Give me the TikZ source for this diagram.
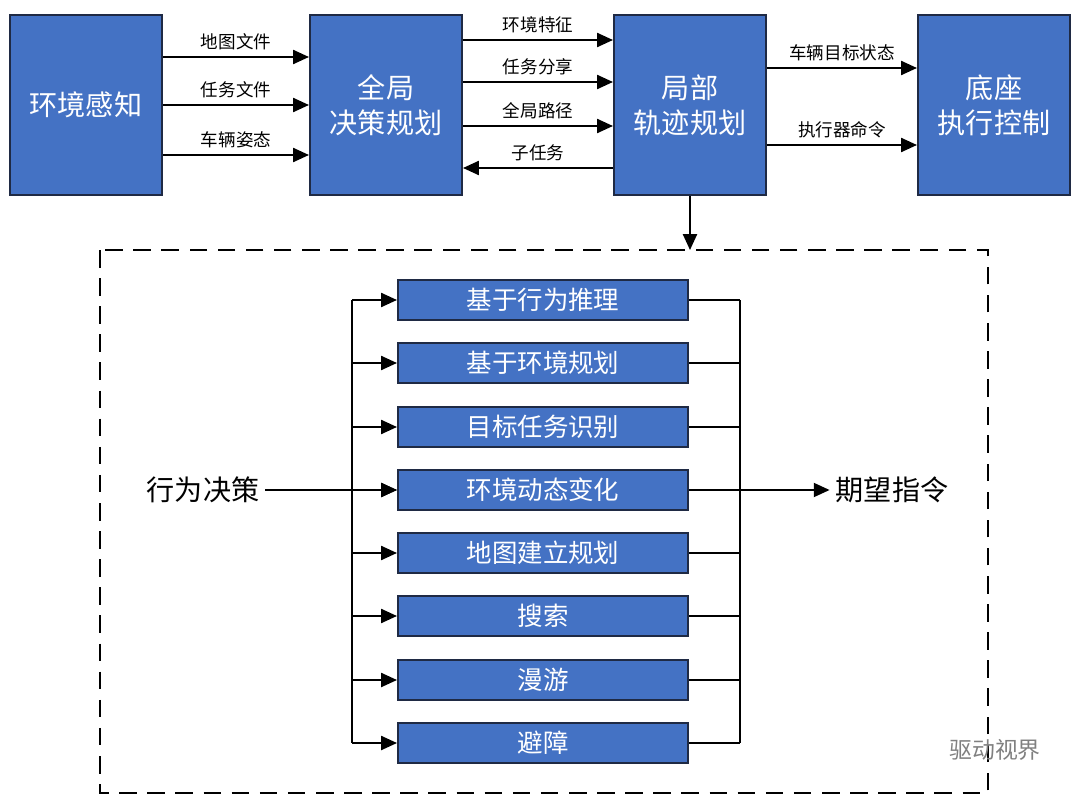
\documentclass[tikz,border=0pt]{standalone}
\usepackage{fontspec}
\setmainfont{Noto Sans CJK SC}
\usetikzlibrary{arrows.meta,positioning}
\definecolor{boxblue}{HTML}{4472C4}
\definecolor{boxline}{HTML}{1F2A44}
\tikzset{
  big/.style={draw=boxline, line width=1.2pt, fill=boxblue, text=white, minimum width=3.04cm, minimum height=3.6cm, align=center, font=\fontsize{16}{20}\selectfont},
  small/.style={draw=boxline, line width=1.2pt, fill=boxblue, text=white, minimum width=5.8cm, minimum height=0.8cm, font=\fontsize{14.5}{16}\selectfont},
  lab/.style={font=\fontsize{10}{12}\selectfont, above},
  arr/.style={-{Triangle[length=9pt,width=8pt]}, line width=1pt},
  ln/.style={line width=1pt}
}
\begin{document}
\begin{tikzpicture}[x=0.02cm, y=-0.02cm]
\useasboundingbox (0,0) rectangle (1080,801);
% top row
\node[big] (env) at (86,105) {环境感知};
\node[big] (glob) at (386,105) {全局\\决策规划};
\node[big] (loc) at (690,105) {局部\\轨迹规划};
\node[big] (base) at (994,105) {底座\\执行控制};
% env -> glob
\foreach \y/\t in {57/地图文件, 105/任务文件, 155/车辆姿态}
  \draw[arr] (env.east |- 0,\y) -- node[lab] {\t} (glob.west |- 0,\y);
% glob <-> loc
\foreach \y/\t in {40/环境特征, 82/任务分享, 126/全局路径}
  \draw[arr] (glob.east |- 0,\y) -- node[lab] {\t} (loc.west |- 0,\y);
\draw[arr] (loc.west |- 0,168) -- node[lab] {子任务} (glob.east |- 0,168);
% loc -> base
\draw[arr] (loc.east |- 0,68) -- node[lab] {车辆目标状态} (base.west |- 0,68);
\draw[arr] (loc.east |- 0,145) -- node[lab] {执行器命令} (base.west |- 0,145);
% detail frame
\coordinate (top) at (690,250);
\draw[arr] (loc.south) -- (top);
\draw[dashed, line width=1.5pt, dash pattern=on 10pt off 6pt] (100,250) rectangle (988,793);
\node[font=\fontsize{16}{19}\selectfont] (dec) at (203,490) {行为决策};
\node[font=\fontsize{16}{19}\selectfont] (cmd) at (892,490) {期望指令};
\coordinate (lt) at (352,300);
\coordinate (lb) at (352,743);
\coordinate (rt) at (740,300);
\coordinate (rb) at (740,743);
\draw[ln] (lt) -- (lb);
\draw[ln] (rt) -- (rb);
\foreach \i/\y/\t in {1/300/基于行为推理, 2/363/基于环境规划, 3/427/目标任务识别, 4/490/环境动态变化, 5/553/地图建立规划, 6/616/搜索, 7/680/漫游, 8/743/避障}{
  \node[small] (m\i) at (543,\y) {\t};
  \draw[arr] (lt |- m\i.west) -- (m\i.west);
  \draw[ln] (m\i.east) -- (rt |- m\i.east);
}
\draw[arr] (dec.east) -- (m4.west);
\draw[arr] (rt |- m4.east) -- (cmd.west);
% watermark
\node[text=gray, font=\fontsize{13}{15}\selectfont] (mark) at (995,750) {驱动视界};
\end{tikzpicture}
\end{document}
